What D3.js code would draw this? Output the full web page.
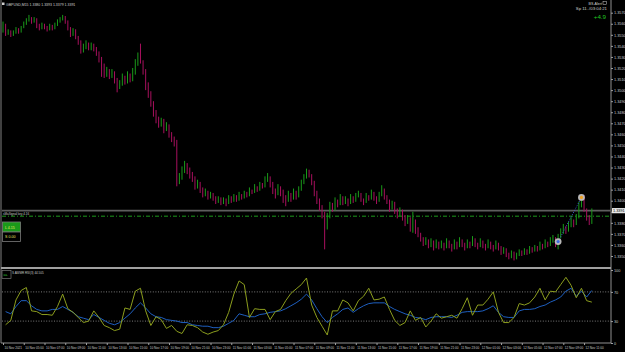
<!DOCTYPE html>
<html>
<head>
<meta charset="utf-8">
<script src="https://cdn.jsdelivr.net/npm/d3@7"></script>
<style>
html,body{margin:0;padding:0;background:#000;overflow:hidden}
svg{display:block}
text{font-family:"Liberation Sans",Arial,sans-serif}
</style>
</head>
<body>
<svg id="chart" width="625" height="352"></svg>
<script>
// GBPUSD M15, prices kept as points above 1.3300
var opens=[254,259,251,253,250,252,255,253,257,260,263,265,262,264,258,256,259,257,255,258,256,259,262,264,266,262,256,250,254,248,244,236,239,242,238,240,237,234,228,222,214,218,213,216,210,203,206,212,208,214,210,216,224,230,226,218,205,198,188,180,174,170,172,165,168,160,156,152,118,122,128,133,128,124,120,114,116,110,106,108,104,106,103,100,102,99,101,98,103,100,104,101,105,103,107,105,109,108,112,110,115,113,118,121,116,110,106,112,109,104,100,106,102,108,104,110,116,121,126,123,117,108,100,95,88,78,86,96,92,100,97,103,99,101,98,103,100,104,106,101,99,104,102,107,103,100,105,110,104,100,94,98,92,88,91,86,80,84,76,82,74,70,66,62,64,60,63,58,62,59,61,58,63,60,57,62,59,64,61,58,62,60,65,61,59,63,60,58,62,59,57,61,58,54,56,52,50,53,49,51,54,52,55,53,57,55,58,56,60,58,62,60,64,66,61,68,72,76,73,78,82,79,85,96,104,92,86,80];
var highs=[262,260,255,254,254,257,256,258,262,265,268,266,266,265,260,261,260,258,260,259,261,264,266,268,267,263,257,256,255,249,245,242,245,243,243,242,239,235,230,224,221,219,219,217,211,209,215,213,217,215,220,228,234,242,227,219,207,199,190,182,176,175,174,171,169,162,158,155,125,131,136,134,130,126,122,119,117,112,111,109,108,107,104,104,103,103,102,105,104,106,105,108,106,109,108,112,110,115,113,117,116,122,125,122,117,111,115,113,110,105,109,107,111,109,113,119,124,129,128,124,118,109,102,96,90,89,99,98,103,101,106,104,104,102,106,104,107,109,107,102,107,105,110,108,104,108,114,111,105,101,100,99,93,94,92,87,87,85,90,83,76,71,67,67,65,66,64,65,63,64,62,66,64,61,65,63,67,65,62,65,63,68,66,62,66,64,61,65,63,60,64,62,59,58,57,53,55,54,53,56,55,57,56,59,58,60,59,63,61,65,63,67,69,67,70,75,79,77,81,85,83,88,99,105,105,93,87,93];
var lows=[252,249,250,248,249,251,251,252,256,259,262,260,261,256,254,255,255,253,254,254,255,258,261,263,260,254,248,249,246,241,233,234,237,236,236,235,231,225,212,211,212,210,211,206,198,201,204,205,206,207,208,214,222,224,214,200,193,185,176,170,166,167,161,163,157,153,149,113,115,119,125,124,120,117,110,111,107,103,104,101,102,100,97,98,96,97,95,97,98,99,99,100,101,102,103,104,106,107,108,109,111,112,117,112,106,102,105,104,98,95,99,99,101,101,103,109,115,120,121,114,104,97,91,84,56,74,84,90,91,94,96,96,97,95,97,98,99,103,99,96,98,100,101,100,97,99,104,101,97,90,92,88,84,86,82,77,79,72,71,70,67,63,59,60,57,58,55,57,56,57,55,57,57,54,56,56,58,58,55,57,57,59,58,56,58,57,55,57,56,54,56,55,51,52,49,47,48,46,47,50,50,51,51,52,53,54,54,55,56,57,58,59,62,58,56,66,70,70,72,76,76,78,84,94,90,82,78,79];
var closes=[259,251,253,250,252,255,253,257,260,263,265,262,264,258,256,259,257,255,258,256,259,262,264,266,262,256,250,254,248,244,236,239,242,238,240,237,234,228,222,214,218,213,216,210,203,206,212,208,214,210,216,224,230,226,218,205,198,188,180,174,170,172,165,168,160,156,152,118,122,128,133,128,124,120,114,116,110,106,108,104,106,103,100,102,99,101,98,103,100,104,101,105,103,107,105,109,108,112,110,115,113,118,121,116,110,106,112,109,104,100,106,102,108,104,110,116,121,126,123,117,108,100,95,88,78,86,96,92,100,97,103,99,101,98,103,100,104,106,101,99,104,102,107,103,100,105,110,104,100,94,98,92,88,91,86,80,84,76,82,74,70,66,62,64,60,63,58,62,59,61,58,63,60,57,62,59,64,61,58,62,60,65,61,59,63,60,58,62,59,57,61,58,54,56,52,50,53,49,51,54,52,55,53,57,55,58,56,60,58,62,60,64,66,61,68,72,76,73,78,82,79,85,96,104,92,86,80,91];

// RSI panel, one value every two bars
var rsiFast=[25,31,59,72,76,44,43,39,39,38,50,67,47,42,35,28,30,44,35,24,21,17,19,48,46,71,75,44,24,36,32,20,24,16,13,25,24,21,15,12,15,17,25,42,67,85,80,35,47,46,46,32,43,46,58,68,74,80,89,52,35,23,11,44,44,59,55,44,58,64,75,59,60,63,46,31,24,28,44,31,35,22,30,40,34,36,38,34,47,62,38,52,52,60,70,42,28,28,35,54,52,55,63,75,59,71,70,80,90,79,62,75,58,56];
var rsiSlow=[43,40,50,58,58,51,46,44,44,46,46,50,46,42,36,34,32,39,35,31,27,25,28,34,40,48,55,48,40,36,35,32,31,30,28,28,25,24,23,23,21,21,23,27,31,40,38,36,36,39,40,42,43,44,47,51,55,60,67,59,47,36,28,35,40,46,48,42,47,51,54,55,55,55,50,46,43,40,38,35,34,32,35,36,36,36,35,38,42,43,43,43,44,47,51,42,36,35,35,44,46,46,47,50,52,56,59,63,71,75,64,71,63,72];
var rsiLevels=[70,30];
var rsiTicks=[100,70,30,0];

var priceTicks=["1.3570","1.3560","1.3550","1.3540","1.3530","1.3520","1.3510","1.3500","1.3490","1.3480","1.3470","1.3460","1.3450","1.3440","1.3430","1.3420","1.3410","1.3400","1.3390","1.3380","1.3370","1.3360","1.3350"];
var timeLabels=["10 Nov 2021","10 Nov 05:00","10 Nov 07:00","10 Nov 09:00","10 Nov 11:00","10 Nov 13:00","10 Nov 15:00","10 Nov 17:00","10 Nov 19:00","10 Nov 21:00","10 Nov 23:00","11 Nov 01:00","11 Nov 03:00","11 Nov 05:00","11 Nov 07:00","11 Nov 09:00","11 Nov 11:00","11 Nov 13:00","11 Nov 15:00","11 Nov 17:00","11 Nov 19:00","11 Nov 21:00","11 Nov 23:00","12 Nov 01:00","12 Nov 03:00","12 Nov 05:00","12 Nov 07:00","12 Nov 09:00","12 Nov 11:00"];

var signalLevel=86;
var signalBars=[214,223];
var signalPrices=[63,103];

var svg=d3.select('#chart');
var W=625,H=352,plotRight=611,mainBottom=267,rsiTop=270,axisY=343;
var n=closes.length;

var x=d3.scaleLinear().domain([0,n-1]).range([3,3+(n-1)*2.594]);
var y=d3.scaleLinear().domain([50,270]).range([256,12.7]);
var ry=d3.scaleLinear().domain([0,100]).range([axisY,rsiTop]);
function px(v){return (1.33+v/10000).toFixed(4);}

svg.append('rect').attr('width',W).attr('height',H).attr('fill','#000');

// frame
svg.append('line').attr('x1',1).attr('x2',1).attr('y1',0).attr('y2',axisY).attr('stroke','#808080').attr('stroke-width',1);
svg.append('line').attr('x1',plotRight).attr('x2',plotRight).attr('y1',0).attr('y2',axisY).attr('stroke','#909090').attr('stroke-width',1);
svg.append('rect').attr('x',1).attr('y',mainBottom).attr('width',plotRight-1).attr('height',2).attr('fill','#a0a0a0');
svg.append('line').attr('x1',1).attr('x2',plotRight).attr('y1',axisY).attr('y2',axisY).attr('stroke','#909090').attr('stroke-width',1);

// price axis
var yAxis=d3.axisRight(y).tickValues(priceTicks.map(function(s){return Math.round((parseFloat(s)-1.33)*10000);}))
  .tickFormat(function(d,i){return priceTicks[i];}).tickSize(2).tickPadding(1);
var ga=svg.append('g').attr('transform','translate('+plotRight+',0)').call(yAxis);
ga.select('.domain').remove();
ga.selectAll('line').attr('stroke','#a0a0a0');
ga.selectAll('text').attr('fill','#c8c8c8').style('font-size','3.8px');

// rsi axis
var rAxis=d3.axisRight(ry).tickValues(rsiTicks).tickSize(2).tickPadding(1);
var gr=svg.append('g').attr('transform','translate('+plotRight+',0)').call(rAxis);
gr.select('.domain').remove();
gr.selectAll('line').attr('stroke','#a0a0a0');
gr.selectAll('text').attr('fill','#c8c8c8').style('font-size','3.8px');

// time axis
var xAxis=d3.axisBottom(x).tickValues(timeLabels.map(function(d,i){return i*8;}))
  .tickFormat(function(d,i){return timeLabels[i];}).tickSize(2).tickPadding(2);
var gx=svg.append('g').attr('transform','translate(0,'+axisY+')').call(xAxis);
gx.select('.domain').remove();
gx.selectAll('line').attr('stroke','#a0a0a0');
gx.selectAll('text').attr('fill','#c8c8c8').style('font-size','3.1px').attr('text-anchor','start').attr('dx',1);

// bid line and signal level
var last=closes[n-1];
svg.append('line').attr('x1',2).attr('x2',plotRight).attr('y1',y(last)).attr('y2',y(last)).attr('stroke','#5e5e5e').attr('stroke-width',1.6);
svg.append('line').attr('x1',2).attr('x2',plotRight).attr('y1',y(signalLevel)).attr('y2',y(signalLevel))
  .attr('stroke','#1c9a1c').attr('stroke-width',1).attr('stroke-dasharray','4,2,1,2');
svg.append('rect').attr('x',plotRight+1).attr('y',y(last)-2.6).attr('width',W-plotRight-1).attr('height',5.2).attr('fill','#e8e8e8');
svg.append('text').attr('x',plotRight+2).attr('y',y(last)+1.3).attr('fill','#000').style('font-size','3.8px').text(px(last));

// bars: thin high-low sticks
var up='#1a9a1a',down='#a8105e';
var idx=d3.range(n);
svg.append('g').selectAll('line').data(idx).join('line')
  .attr('x1',function(i){return x(i);}).attr('x2',function(i){return x(i);})
  .attr('y1',function(i){return y(highs[i]);}).attr('y2',function(i){return y(lows[i]);})
  .attr('stroke',function(i){return closes[i]>=opens[i]?up:down;}).attr('stroke-width',1);

// signal markers
svg.append('line').attr('x1',x(signalBars[0])).attr('y1',y(signalPrices[0])).attr('x2',x(signalBars[1])).attr('y2',y(signalPrices[1]))
  .attr('stroke','#3a5ad0').attr('stroke-width',1).attr('stroke-dasharray','1,1.5');
var dotCols=['#3a6ae0','#f0a020'];
signalBars.forEach(function(b,k){
  svg.append('circle').attr('cx',x(b)).attr('cy',y(signalPrices[k])).attr('r',3.4).attr('fill','#b8b8b8');
  svg.append('circle').attr('cx',x(b)).attr('cy',y(signalPrices[k])).attr('r',1.6).attr('fill',dotCols[k]);
});

// rsi levels and lines
rsiLevels.forEach(function(l){
  svg.append('line').attr('x1',2).attr('x2',plotRight).attr('y1',ry(l)).attr('y2',ry(l))
    .attr('stroke','#9a9a9a').attr('stroke-width',0.8).attr('stroke-dasharray','1,1.6');
});
var rx=function(k){return x(2*k+1);};
var line=d3.line().x(function(d,k){return rx(k);}).y(function(d){return ry(d);});
svg.append('path').attr('d',line(rsiSlow)).attr('fill','none').attr('stroke','#1e5fc0').attr('stroke-width',1);
svg.append('path').attr('d',line(rsiFast)).attr('fill','none').attr('stroke','#8c9e1e').attr('stroke-width',1);

// texts
svg.append('rect').attr('x',2).attr('y',2.5).attr('width',2.5).attr('height',2.5).attr('fill','#d0d0d0');
svg.append('text').attr('x',6).attr('y',5.5).attr('fill','#d0d0d0').style('font-size','3.5px')
  .text('GBPUSD,M15  '+px(opens[n-1])+' '+px(highs[n-1])+' '+px(lows[n-1])+' '+px(last));
svg.append('text').attr('x',602).attr('y',4.5).attr('text-anchor','end').attr('fill','#d0d0d0').style('font-size','3.6px').text('BS-Alert');
svg.append('rect').attr('x',603).attr('y',1.5).attr('width',3.5).attr('height',3.2).attr('fill','none').attr('stroke','#d0d0d0').attr('stroke-width',0.5);
svg.append('text').attr('x',607).attr('y',10).attr('text-anchor','end').attr('fill','#d0d0d0').style('font-size','4.3px').text('Sp  11../03:04:21');
svg.append('text').attr('x',606).attr('y',18.5).attr('text-anchor','end').attr('fill','#22c822').style('font-size','6.2px').text('+4.9');

svg.append('text').attr('x',3).attr('y',215).attr('fill','#c8c8c8').style('font-size','3px').text('sMaSignal key 4.16');
svg.append('rect').attr('x',2.5).attr('y',222).attr('width',18).attr('height',10).attr('fill','#1a9a1a').attr('stroke','#7a7a7a').attr('stroke-width',0.8);
svg.append('text').attr('x',5).attr('y',228.5).attr('fill','#e8e860').style('font-size','3.6px').text('L  4.15');
svg.append('rect').attr('x',2.5).attr('y',232).attr('width',18).attr('height',9.5).attr('fill','#000').attr('stroke','#7a7a7a').attr('stroke-width',0.8);
svg.append('text').attr('x',5).attr('y',238.3).attr('fill','#e8e860').style('font-size','3.6px').text('S  0.00');

svg.append('rect').attr('x',2).attr('y',270.5).attr('width',9).attr('height',8).attr('fill','#000').attr('stroke','#8a8a8a').attr('stroke-width',0.6);
svg.append('text').attr('x',3.5).attr('y',275.5).attr('fill','#30c030').style('font-size','3px').text('aa-');
svg.append('text').attr('x',12).attr('y',273.5).attr('fill','#c8c8c8').style('font-size','3px').text('S AWMR RSI(3) 44.505');
</script>
</body>
</html>
